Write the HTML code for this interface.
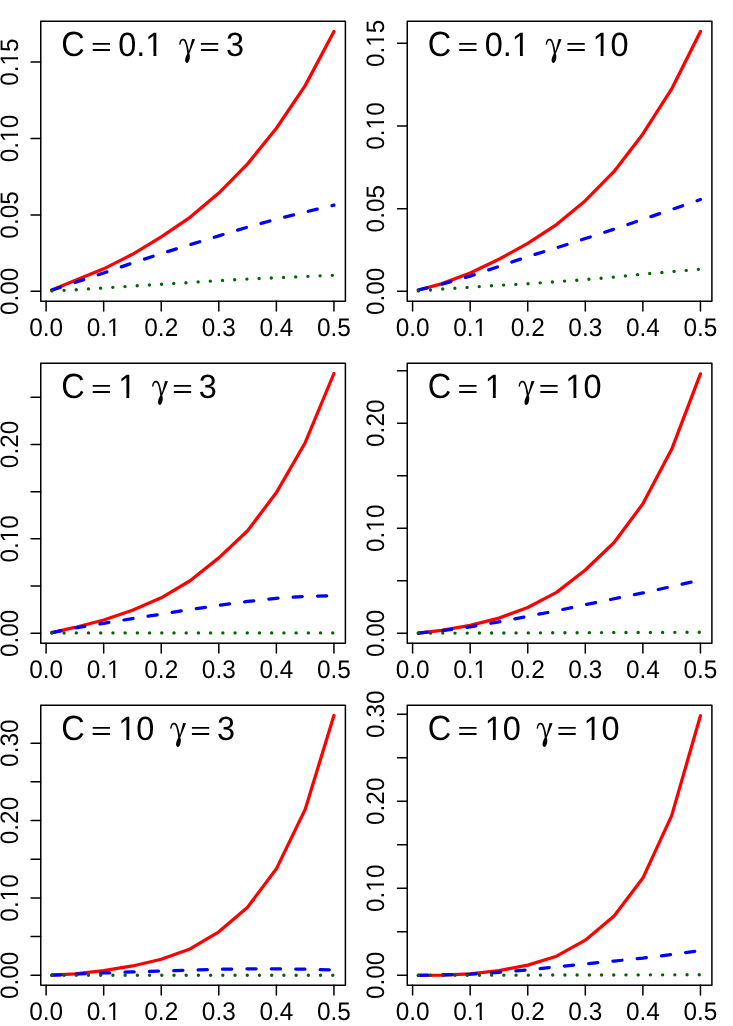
<!DOCTYPE html>
<html><head><meta charset="utf-8"><title>chart</title>
<style>
html,body{margin:0;padding:0;background:#fff;}
body{width:733px;height:1026px;overflow:hidden;}
svg{display:block;font-family:"Liberation Sans",sans-serif;fill:#000;}
text{text-rendering:geometricPrecision;}
.t{filter:grayscale(1);}
</style></head><body>
<svg width="733" height="1026" viewBox="0 0 733 1026">
<rect width="733" height="1026" fill="#fff"/>
<g>
<polyline points="51.86,290.00 74.89,280.60 103.67,268.84 132.46,254.32 161.24,236.90 190.03,217.34 218.81,193.05 247.59,163.86 276.38,128.26 305.17,85.63 333.95,31.54" fill="none" stroke="#ff0000" stroke-width="3.25" stroke-linecap="round" stroke-linejoin="round"/>
<polyline points="51.86,290.08 74.89,282.59 103.67,272.96 132.46,263.03 161.24,253.56 190.03,244.70 218.81,235.83 247.59,227.12 276.38,219.18 305.17,212.00 333.95,205.12" fill="none" stroke="#0000ff" stroke-width="3.25" stroke-linecap="round" stroke-linejoin="round" stroke-dasharray="9.15 15.25"/>
<polyline points="51.86,290.99 74.89,289.77 103.67,287.94 132.46,286.10 161.24,284.27 190.03,282.44 218.81,280.60 247.59,279.08 276.38,277.70 305.17,276.48 333.95,275.26" fill="none" stroke="#006400" stroke-width="3.40" stroke-linecap="round" stroke-linejoin="round" stroke-dasharray="0 12.213"/>
<rect x="40.75" y="21.20" width="304.65" height="280.15" fill="none" stroke="#000" stroke-width="1.50" stroke-linejoin="round"/>
<path d="M46.10 301.35V310.95M103.67 301.35V310.95M161.24 301.35V310.95M218.81 301.35V310.95M276.38 301.35V310.95M333.95 301.35V310.95M40.75 291.30H31.05M40.75 214.90H31.05M40.75 138.50H31.05M40.75 62.10H31.05" stroke="#000" stroke-width="1.50" fill="none" stroke-linecap="round"/>
<path d="M92.70 43.90h17.3M92.70 50.00h17.3" stroke="#000" stroke-width="1.85" fill="none"/>
<path d="M182.92 38.55 C184 38.55 184.6 38.9 185.1 39.42 C185.7 40 186.1 40.9 186.41 41.61 C186.9 42.8 187.2 44 187.5 45.1 L188.59 49.47 L188.94 51.21 L192.09 38.99 L195.06 39.21 L189.69 52.52 C189.5 52.9 189.3 53.1 189.25 53.4 C189.9 55 190 56.8 189.69 58.2 C189.3 60.5 188.3 62.79 187.07 62.79 C185.5 62.79 184.8 61 185.1 59.07 C185.4 57 186.6 55 187.28 53.4 C187.1 51.8 186.9 50.2 186.63 48.59 C186.3 46.8 185.9 44.9 185.32 43.35 C184.9 42.2 184.4 41.2 183.79 40.73 C183.4 40.45 182.9 40.4 182.48 40.52 C181.9 40.7 181.5 41.1 181.17 41.61 C180.8 42.4 180.6 43.5 180.52 44.45 L179.21 44.66 C179.2 43.9 179.3 43.2 179.42 42.48 C179.6 41.4 180.1 40.4 180.73 39.64 C181.3 39 182 38.55 182.92 38.55 Z" transform="translate(0.04 0.10)" fill="#000"/>
<path d="M200.94 43.90h17.3M200.94 50.00h17.3" stroke="#000" stroke-width="1.85" fill="none"/>
</g>
<g>
<polyline points="418.36,289.98 441.39,283.86 470.17,272.95 498.96,259.23 527.74,243.36 556.53,224.52 585.31,200.72 614.10,171.46 642.88,133.93 671.67,88.97 700.45,31.45" fill="none" stroke="#ff0000" stroke-width="3.25" stroke-linecap="round" stroke-linejoin="round"/>
<polyline points="418.36,289.98 441.39,284.36 470.17,276.09 498.96,266.50 527.74,256.59 556.53,247.83 585.31,238.57 614.10,229.15 642.88,219.39 671.67,209.48 700.45,199.56" fill="none" stroke="#0000ff" stroke-width="3.25" stroke-linecap="round" stroke-linejoin="round" stroke-dasharray="9.15 15.25"/>
<polyline points="418.36,290.97 441.39,289.15 470.17,287.17 498.96,285.35 527.74,283.70 556.53,281.71 585.31,279.56 614.10,277.08 642.88,274.11 671.67,271.63 700.45,269.15" fill="none" stroke="#006400" stroke-width="3.40" stroke-linecap="round" stroke-linejoin="round" stroke-dasharray="0 12.213"/>
<rect x="407.25" y="21.20" width="304.65" height="280.15" fill="none" stroke="#000" stroke-width="1.50" stroke-linejoin="round"/>
<path d="M412.60 301.35V310.95M470.17 301.35V310.95M527.74 301.35V310.95M585.31 301.35V310.95M642.88 301.35V310.95M700.45 301.35V310.95M407.25 291.30H397.55M407.25 208.65H397.55M407.25 126.00H397.55M407.25 43.35H397.55" stroke="#000" stroke-width="1.50" fill="none" stroke-linecap="round"/>
<path d="M459.20 43.90h17.3M459.20 50.00h17.3" stroke="#000" stroke-width="1.85" fill="none"/>
<path d="M182.92 38.55 C184 38.55 184.6 38.9 185.1 39.42 C185.7 40 186.1 40.9 186.41 41.61 C186.9 42.8 187.2 44 187.5 45.1 L188.59 49.47 L188.94 51.21 L192.09 38.99 L195.06 39.21 L189.69 52.52 C189.5 52.9 189.3 53.1 189.25 53.4 C189.9 55 190 56.8 189.69 58.2 C189.3 60.5 188.3 62.79 187.07 62.79 C185.5 62.79 184.8 61 185.1 59.07 C185.4 57 186.6 55 187.28 53.4 C187.1 51.8 186.9 50.2 186.63 48.59 C186.3 46.8 185.9 44.9 185.32 43.35 C184.9 42.2 184.4 41.2 183.79 40.73 C183.4 40.45 182.9 40.4 182.48 40.52 C181.9 40.7 181.5 41.1 181.17 41.61 C180.8 42.4 180.6 43.5 180.52 44.45 L179.21 44.66 C179.2 43.9 179.3 43.2 179.42 42.48 C179.6 41.4 180.1 40.4 180.73 39.64 C181.3 39 182 38.55 182.92 38.55 Z" transform="translate(366.54 0.10)" fill="#000"/>
<path d="M567.44 43.90h17.3M567.44 50.00h17.3" stroke="#000" stroke-width="1.85" fill="none"/>
</g>
<g>
<polyline points="51.86,632.55 74.89,627.45 103.67,620.00 132.46,610.29 161.24,597.84 190.03,580.77 218.81,557.86 247.59,530.80 276.38,492.60 305.17,442.72 333.95,373.50" fill="none" stroke="#ff0000" stroke-width="3.25" stroke-linecap="round" stroke-linejoin="round"/>
<polyline points="51.86,632.55 74.89,628.11 103.67,623.30 132.46,618.59 161.24,614.16 190.03,609.54 218.81,605.39 247.59,601.43 276.38,598.31 305.17,596.33 333.95,595.58" fill="none" stroke="#0000ff" stroke-width="3.25" stroke-linecap="round" stroke-linejoin="round" stroke-dasharray="9.15 15.25"/>
<polyline points="51.86,633.02 74.89,632.92 103.67,632.92 132.46,632.92 161.24,632.92 190.03,632.92 218.81,632.92 247.59,632.92 276.38,632.92 305.17,632.92 333.95,632.92" fill="none" stroke="#006400" stroke-width="3.40" stroke-linecap="round" stroke-linejoin="round" stroke-dasharray="0 12.213"/>
<rect x="40.75" y="363.20" width="304.65" height="280.15" fill="none" stroke="#000" stroke-width="1.50" stroke-linejoin="round"/>
<path d="M46.10 643.35V652.95M103.67 643.35V652.95M161.24 643.35V652.95M218.81 643.35V652.95M276.38 643.35V652.95M333.95 643.35V652.95M40.75 633.30H31.05M40.75 586.08H31.05M40.75 538.86H31.05M40.75 491.64H31.05M40.75 444.42H31.05M40.75 397.20H31.05" stroke="#000" stroke-width="1.50" fill="none" stroke-linecap="round"/>
<path d="M92.70 385.90h17.3M92.70 392.00h17.3" stroke="#000" stroke-width="1.85" fill="none"/>
<path d="M182.92 38.55 C184 38.55 184.6 38.9 185.1 39.42 C185.7 40 186.1 40.9 186.41 41.61 C186.9 42.8 187.2 44 187.5 45.1 L188.59 49.47 L188.94 51.21 L192.09 38.99 L195.06 39.21 L189.69 52.52 C189.5 52.9 189.3 53.1 189.25 53.4 C189.9 55 190 56.8 189.69 58.2 C189.3 60.5 188.3 62.79 187.07 62.79 C185.5 62.79 184.8 61 185.1 59.07 C185.4 57 186.6 55 187.28 53.4 C187.1 51.8 186.9 50.2 186.63 48.59 C186.3 46.8 185.9 44.9 185.32 43.35 C184.9 42.2 184.4 41.2 183.79 40.73 C183.4 40.45 182.9 40.4 182.48 40.52 C181.9 40.7 181.5 41.1 181.17 41.61 C180.8 42.4 180.6 43.5 180.52 44.45 L179.21 44.66 C179.2 43.9 179.3 43.2 179.42 42.48 C179.6 41.4 180.1 40.4 180.73 39.64 C181.3 39 182 38.55 182.92 38.55 Z" transform="translate(-27.07 342.10)" fill="#000"/>
<path d="M173.83 385.90h17.3M173.83 392.00h17.3" stroke="#000" stroke-width="1.85" fill="none"/>
</g>
<g>
<polyline points="418.36,633.09 441.39,630.37 470.17,625.35 498.96,618.13 527.74,607.46 556.53,592.40 585.31,570.02 614.10,542.51 642.88,503.81 671.67,449.31 700.45,373.89" fill="none" stroke="#ff0000" stroke-width="3.25" stroke-linecap="round" stroke-linejoin="round"/>
<polyline points="418.36,633.09 441.39,630.69 470.17,626.92 498.96,621.79 527.74,616.35 556.53,610.81 585.31,604.64 614.10,598.78 642.88,592.92 671.67,586.54 700.45,579.95" fill="none" stroke="#0000ff" stroke-width="3.25" stroke-linecap="round" stroke-linejoin="round" stroke-dasharray="9.15 15.25"/>
<polyline points="418.36,633.20 441.39,633.09 470.17,633.09 498.96,632.99 527.74,632.88 556.53,632.78 585.31,632.67 614.10,632.57 642.88,632.46 671.67,632.36 700.45,632.25" fill="none" stroke="#006400" stroke-width="3.40" stroke-linecap="round" stroke-linejoin="round" stroke-dasharray="0 12.213"/>
<rect x="407.25" y="363.20" width="304.65" height="280.15" fill="none" stroke="#000" stroke-width="1.50" stroke-linejoin="round"/>
<path d="M412.60 643.35V652.95M470.17 643.35V652.95M527.74 643.35V652.95M585.31 643.35V652.95M642.88 643.35V652.95M700.45 643.35V652.95M407.25 633.30H397.55M407.25 580.78H397.55M407.25 528.26H397.55M407.25 475.74H397.55M407.25 423.22H397.55M407.25 370.70H397.55" stroke="#000" stroke-width="1.50" fill="none" stroke-linecap="round"/>
<path d="M459.20 385.90h17.3M459.20 392.00h17.3" stroke="#000" stroke-width="1.85" fill="none"/>
<path d="M182.92 38.55 C184 38.55 184.6 38.9 185.1 39.42 C185.7 40 186.1 40.9 186.41 41.61 C186.9 42.8 187.2 44 187.5 45.1 L188.59 49.47 L188.94 51.21 L192.09 38.99 L195.06 39.21 L189.69 52.52 C189.5 52.9 189.3 53.1 189.25 53.4 C189.9 55 190 56.8 189.69 58.2 C189.3 60.5 188.3 62.79 187.07 62.79 C185.5 62.79 184.8 61 185.1 59.07 C185.4 57 186.6 55 187.28 53.4 C187.1 51.8 186.9 50.2 186.63 48.59 C186.3 46.8 185.9 44.9 185.32 43.35 C184.9 42.2 184.4 41.2 183.79 40.73 C183.4 40.45 182.9 40.4 182.48 40.52 C181.9 40.7 181.5 41.1 181.17 41.61 C180.8 42.4 180.6 43.5 180.52 44.45 L179.21 44.66 C179.2 43.9 179.3 43.2 179.42 42.48 C179.6 41.4 180.1 40.4 180.73 39.64 C181.3 39 182 38.55 182.92 38.55 Z" transform="translate(339.43 342.10)" fill="#000"/>
<path d="M540.33 385.90h17.3M540.33 392.00h17.3" stroke="#000" stroke-width="1.85" fill="none"/>
</g>
<g>
<polyline points="51.86,975.22 74.89,973.76 103.67,970.67 132.46,965.96 161.24,959.24 190.03,948.97 218.81,931.84 247.59,907.21 276.38,868.84 305.17,809.40 333.95,715.52" fill="none" stroke="#ff0000" stroke-width="3.25" stroke-linecap="round" stroke-linejoin="round"/>
<polyline points="51.86,975.22 74.89,974.14 103.67,972.98 132.46,971.90 161.24,970.98 190.03,970.05 218.81,969.28 247.59,968.82 276.38,968.82 305.17,969.12 333.95,969.90" fill="none" stroke="#0000ff" stroke-width="3.25" stroke-linecap="round" stroke-linejoin="round" stroke-dasharray="9.15 15.25"/>
<polyline points="51.86,975.22 74.89,975.22 103.67,975.22 132.46,975.22 161.24,975.22 190.03,975.22 218.81,975.22 247.59,975.22 276.38,975.22 305.17,975.22 333.95,975.22" fill="none" stroke="#006400" stroke-width="3.40" stroke-linecap="round" stroke-linejoin="round" stroke-dasharray="0 12.213"/>
<rect x="40.75" y="705.20" width="304.65" height="280.15" fill="none" stroke="#000" stroke-width="1.50" stroke-linejoin="round"/>
<path d="M46.10 985.35V994.95M103.67 985.35V994.95M161.24 985.35V994.95M218.81 985.35V994.95M276.38 985.35V994.95M333.95 985.35V994.95M40.75 975.30H31.05M40.75 936.61H31.05M40.75 897.92H31.05M40.75 859.23H31.05M40.75 820.54H31.05M40.75 781.85H31.05M40.75 743.16H31.05" stroke="#000" stroke-width="1.50" fill="none" stroke-linecap="round"/>
<path d="M92.70 727.90h17.3M92.70 734.00h17.3" stroke="#000" stroke-width="1.85" fill="none"/>
<path d="M182.92 38.55 C184 38.55 184.6 38.9 185.1 39.42 C185.7 40 186.1 40.9 186.41 41.61 C186.9 42.8 187.2 44 187.5 45.1 L188.59 49.47 L188.94 51.21 L192.09 38.99 L195.06 39.21 L189.69 52.52 C189.5 52.9 189.3 53.1 189.25 53.4 C189.9 55 190 56.8 189.69 58.2 C189.3 60.5 188.3 62.79 187.07 62.79 C185.5 62.79 184.8 61 185.1 59.07 C185.4 57 186.6 55 187.28 53.4 C187.1 51.8 186.9 50.2 186.63 48.59 C186.3 46.8 185.9 44.9 185.32 43.35 C184.9 42.2 184.4 41.2 183.79 40.73 C183.4 40.45 182.9 40.4 182.48 40.52 C181.9 40.7 181.5 41.1 181.17 41.61 C180.8 42.4 180.6 43.5 180.52 44.45 L179.21 44.66 C179.2 43.9 179.3 43.2 179.42 42.48 C179.6 41.4 180.1 40.4 180.73 39.64 C181.3 39 182 38.55 182.92 38.55 Z" transform="translate(-8.99 684.10)" fill="#000"/>
<path d="M191.91 727.90h17.3M191.91 734.00h17.3" stroke="#000" stroke-width="1.85" fill="none"/>
</g>
<g>
<polyline points="418.36,975.30 441.39,975.13 470.17,973.91 498.96,970.61 527.74,965.14 556.53,956.20 585.31,940.15 614.10,916.10 642.88,878.08 671.67,815.59 700.45,715.77" fill="none" stroke="#ff0000" stroke-width="3.25" stroke-linecap="round" stroke-linejoin="round"/>
<polyline points="418.36,975.30 441.39,975.04 470.17,974.17 498.96,972.35 527.74,969.92 556.53,966.79 585.31,963.93 614.10,961.06 642.88,958.11 671.67,954.47 700.45,950.56" fill="none" stroke="#0000ff" stroke-width="3.25" stroke-linecap="round" stroke-linejoin="round" stroke-dasharray="9.15 15.25"/>
<polyline points="418.36,975.30 441.39,975.21 470.17,975.21 498.96,975.13 527.74,975.13 556.53,975.04 585.31,974.95 614.10,974.95 642.88,974.87 671.67,974.87 700.45,974.78" fill="none" stroke="#006400" stroke-width="3.40" stroke-linecap="round" stroke-linejoin="round" stroke-dasharray="0 12.213"/>
<rect x="407.25" y="705.20" width="304.65" height="280.15" fill="none" stroke="#000" stroke-width="1.50" stroke-linejoin="round"/>
<path d="M412.60 985.35V994.95M470.17 985.35V994.95M527.74 985.35V994.95M585.31 985.35V994.95M642.88 985.35V994.95M700.45 985.35V994.95M407.25 975.30H397.55M407.25 931.79H397.55M407.25 888.27H397.55M407.25 844.76H397.55M407.25 801.24H397.55M407.25 757.73H397.55M407.25 714.21H397.55" stroke="#000" stroke-width="1.50" fill="none" stroke-linecap="round"/>
<path d="M459.20 727.90h17.3M459.20 734.00h17.3" stroke="#000" stroke-width="1.85" fill="none"/>
<path d="M182.92 38.55 C184 38.55 184.6 38.9 185.1 39.42 C185.7 40 186.1 40.9 186.41 41.61 C186.9 42.8 187.2 44 187.5 45.1 L188.59 49.47 L188.94 51.21 L192.09 38.99 L195.06 39.21 L189.69 52.52 C189.5 52.9 189.3 53.1 189.25 53.4 C189.9 55 190 56.8 189.69 58.2 C189.3 60.5 188.3 62.79 187.07 62.79 C185.5 62.79 184.8 61 185.1 59.07 C185.4 57 186.6 55 187.28 53.4 C187.1 51.8 186.9 50.2 186.63 48.59 C186.3 46.8 185.9 44.9 185.32 43.35 C184.9 42.2 184.4 41.2 183.79 40.73 C183.4 40.45 182.9 40.4 182.48 40.52 C181.9 40.7 181.5 41.1 181.17 41.61 C180.8 42.4 180.6 43.5 180.52 44.45 L179.21 44.66 C179.2 43.9 179.3 43.2 179.42 42.48 C179.6 41.4 180.1 40.4 180.73 39.64 C181.3 39 182 38.55 182.92 38.55 Z" transform="translate(357.51 684.10)" fill="#000"/>
<path d="M558.41 727.90h17.3M558.41 734.00h17.3" stroke="#000" stroke-width="1.85" fill="none"/>
</g>
<g class="t">
<text transform="translate(46.10 335.70) scale(1 1.045)" x="-16.96" font-size="24.40">0.0</text>
<text transform="translate(103.67 335.70) scale(1 1.045)" x="-16.96" font-size="24.40">0.1</text>
<rect transform="translate(103.67 335.70)" x="4.05" y="-2.65" width="5.46" height="3.65" fill="#fff"/>
<rect transform="translate(103.67 335.70)" x="11.70" y="-2.65" width="5.29" height="3.65" fill="#fff"/>
<text transform="translate(161.24 335.70) scale(1 1.045)" x="-16.96" font-size="24.40">0.2</text>
<text transform="translate(218.81 335.70) scale(1 1.045)" x="-16.96" font-size="24.40">0.3</text>
<text transform="translate(276.38 335.70) scale(1 1.045)" x="-16.96" font-size="24.40">0.4</text>
<text transform="translate(333.95 335.70) scale(1 1.045)" x="-16.96" font-size="24.40">0.5</text>
<text transform="translate(17.90 291.30) rotate(-90) scale(1 1.035)" x="-23.74" font-size="24.40">0.00</text>
<text transform="translate(17.90 214.90) rotate(-90) scale(1 1.035)" x="-23.74" font-size="24.40">0.05</text>
<text transform="translate(17.90 138.50) rotate(-90) scale(1 1.035)" x="-23.74" font-size="24.40">0.10</text>
<rect transform="translate(17.90 138.50) rotate(-90)" x="-2.74" y="-2.64" width="5.46" height="3.64" fill="#fff"/>
<rect transform="translate(17.90 138.50) rotate(-90)" x="4.92" y="-2.64" width="5.29" height="3.64" fill="#fff"/>
<text transform="translate(17.90 62.10) rotate(-90) scale(1 1.035)" x="-23.74" font-size="24.40">0.15</text>
<rect transform="translate(17.90 62.10) rotate(-90)" x="-2.74" y="-2.64" width="5.46" height="3.64" fill="#fff"/>
<rect transform="translate(17.90 62.10) rotate(-90)" x="4.92" y="-2.64" width="5.29" height="3.64" fill="#fff"/>
<text transform="translate(61.35 55.90) scale(1 1.080)" x="0.00" font-size="32.50">C</text>
<text transform="translate(118.20 55.90) scale(1 1.035)" x="0.00" font-size="32.50">0.1</text>
<rect transform="translate(118.20 55.90)" x="28.38" y="-3.26" width="6.88" height="4.26" fill="#fff"/>
<rect transform="translate(118.20 55.90)" x="38.17" y="-3.26" width="6.64" height="4.26" fill="#fff"/>
<text transform="translate(225.94 55.90) scale(1 1.035)" x="0.00" font-size="32.50">3</text>
<text transform="translate(412.60 335.70) scale(1 1.045)" x="-16.96" font-size="24.40">0.0</text>
<text transform="translate(470.17 335.70) scale(1 1.045)" x="-16.96" font-size="24.40">0.1</text>
<rect transform="translate(470.17 335.70)" x="4.05" y="-2.65" width="5.46" height="3.65" fill="#fff"/>
<rect transform="translate(470.17 335.70)" x="11.70" y="-2.65" width="5.29" height="3.65" fill="#fff"/>
<text transform="translate(527.74 335.70) scale(1 1.045)" x="-16.96" font-size="24.40">0.2</text>
<text transform="translate(585.31 335.70) scale(1 1.045)" x="-16.96" font-size="24.40">0.3</text>
<text transform="translate(642.88 335.70) scale(1 1.045)" x="-16.96" font-size="24.40">0.4</text>
<text transform="translate(700.45 335.70) scale(1 1.045)" x="-16.96" font-size="24.40">0.5</text>
<text transform="translate(384.40 291.30) rotate(-90) scale(1 1.035)" x="-23.74" font-size="24.40">0.00</text>
<text transform="translate(384.40 208.65) rotate(-90) scale(1 1.035)" x="-23.74" font-size="24.40">0.05</text>
<text transform="translate(384.40 126.00) rotate(-90) scale(1 1.035)" x="-23.74" font-size="24.40">0.10</text>
<rect transform="translate(384.40 126.00) rotate(-90)" x="-2.74" y="-2.64" width="5.46" height="3.64" fill="#fff"/>
<rect transform="translate(384.40 126.00) rotate(-90)" x="4.92" y="-2.64" width="5.29" height="3.64" fill="#fff"/>
<text transform="translate(384.40 43.35) rotate(-90) scale(1 1.035)" x="-23.74" font-size="24.40">0.15</text>
<rect transform="translate(384.40 43.35) rotate(-90)" x="-2.74" y="-2.64" width="5.46" height="3.64" fill="#fff"/>
<rect transform="translate(384.40 43.35) rotate(-90)" x="4.92" y="-2.64" width="5.29" height="3.64" fill="#fff"/>
<text transform="translate(427.85 55.90) scale(1 1.080)" x="0.00" font-size="32.50">C</text>
<text transform="translate(484.70 55.90) scale(1 1.035)" x="0.00" font-size="32.50">0.1</text>
<rect transform="translate(484.70 55.90)" x="28.38" y="-3.26" width="6.88" height="4.26" fill="#fff"/>
<rect transform="translate(484.70 55.90)" x="38.17" y="-3.26" width="6.64" height="4.26" fill="#fff"/>
<text transform="translate(592.44 55.90) scale(1 1.035)" x="0.00" font-size="32.50">10</text>
<rect transform="translate(592.44 55.90)" x="1.28" y="-3.26" width="6.88" height="4.26" fill="#fff"/>
<rect transform="translate(592.44 55.90)" x="11.06" y="-3.26" width="6.64" height="4.26" fill="#fff"/>
<text transform="translate(46.10 677.70) scale(1 1.045)" x="-16.96" font-size="24.40">0.0</text>
<text transform="translate(103.67 677.70) scale(1 1.045)" x="-16.96" font-size="24.40">0.1</text>
<rect transform="translate(103.67 677.70)" x="4.05" y="-2.65" width="5.46" height="3.65" fill="#fff"/>
<rect transform="translate(103.67 677.70)" x="11.70" y="-2.65" width="5.29" height="3.65" fill="#fff"/>
<text transform="translate(161.24 677.70) scale(1 1.045)" x="-16.96" font-size="24.40">0.2</text>
<text transform="translate(218.81 677.70) scale(1 1.045)" x="-16.96" font-size="24.40">0.3</text>
<text transform="translate(276.38 677.70) scale(1 1.045)" x="-16.96" font-size="24.40">0.4</text>
<text transform="translate(333.95 677.70) scale(1 1.045)" x="-16.96" font-size="24.40">0.5</text>
<text transform="translate(17.90 633.30) rotate(-90) scale(1 1.035)" x="-23.74" font-size="24.40">0.00</text>
<text transform="translate(17.90 538.86) rotate(-90) scale(1 1.035)" x="-23.74" font-size="24.40">0.10</text>
<rect transform="translate(17.90 538.86) rotate(-90)" x="-2.74" y="-2.64" width="5.46" height="3.64" fill="#fff"/>
<rect transform="translate(17.90 538.86) rotate(-90)" x="4.92" y="-2.64" width="5.29" height="3.64" fill="#fff"/>
<text transform="translate(17.90 444.42) rotate(-90) scale(1 1.035)" x="-23.74" font-size="24.40">0.20</text>
<text transform="translate(61.35 397.90) scale(1 1.080)" x="0.00" font-size="32.50">C</text>
<text transform="translate(118.20 397.90) scale(1 1.035)" x="0.00" font-size="32.50">1</text>
<rect transform="translate(118.20 397.90)" x="1.28" y="-3.26" width="6.88" height="4.26" fill="#fff"/>
<rect transform="translate(118.20 397.90)" x="11.06" y="-3.26" width="6.64" height="4.26" fill="#fff"/>
<text transform="translate(198.83 397.90) scale(1 1.035)" x="0.00" font-size="32.50">3</text>
<text transform="translate(412.60 677.70) scale(1 1.045)" x="-16.96" font-size="24.40">0.0</text>
<text transform="translate(470.17 677.70) scale(1 1.045)" x="-16.96" font-size="24.40">0.1</text>
<rect transform="translate(470.17 677.70)" x="4.05" y="-2.65" width="5.46" height="3.65" fill="#fff"/>
<rect transform="translate(470.17 677.70)" x="11.70" y="-2.65" width="5.29" height="3.65" fill="#fff"/>
<text transform="translate(527.74 677.70) scale(1 1.045)" x="-16.96" font-size="24.40">0.2</text>
<text transform="translate(585.31 677.70) scale(1 1.045)" x="-16.96" font-size="24.40">0.3</text>
<text transform="translate(642.88 677.70) scale(1 1.045)" x="-16.96" font-size="24.40">0.4</text>
<text transform="translate(700.45 677.70) scale(1 1.045)" x="-16.96" font-size="24.40">0.5</text>
<text transform="translate(384.40 633.30) rotate(-90) scale(1 1.035)" x="-23.74" font-size="24.40">0.00</text>
<text transform="translate(384.40 528.26) rotate(-90) scale(1 1.035)" x="-23.74" font-size="24.40">0.10</text>
<rect transform="translate(384.40 528.26) rotate(-90)" x="-2.74" y="-2.64" width="5.46" height="3.64" fill="#fff"/>
<rect transform="translate(384.40 528.26) rotate(-90)" x="4.92" y="-2.64" width="5.29" height="3.64" fill="#fff"/>
<text transform="translate(384.40 423.22) rotate(-90) scale(1 1.035)" x="-23.74" font-size="24.40">0.20</text>
<text transform="translate(427.85 397.90) scale(1 1.080)" x="0.00" font-size="32.50">C</text>
<text transform="translate(484.70 397.90) scale(1 1.035)" x="0.00" font-size="32.50">1</text>
<rect transform="translate(484.70 397.90)" x="1.28" y="-3.26" width="6.88" height="4.26" fill="#fff"/>
<rect transform="translate(484.70 397.90)" x="11.06" y="-3.26" width="6.64" height="4.26" fill="#fff"/>
<text transform="translate(565.33 397.90) scale(1 1.035)" x="0.00" font-size="32.50">10</text>
<rect transform="translate(565.33 397.90)" x="1.28" y="-3.26" width="6.88" height="4.26" fill="#fff"/>
<rect transform="translate(565.33 397.90)" x="11.06" y="-3.26" width="6.64" height="4.26" fill="#fff"/>
<text transform="translate(46.10 1019.70) scale(1 1.045)" x="-16.96" font-size="24.40">0.0</text>
<text transform="translate(103.67 1019.70) scale(1 1.045)" x="-16.96" font-size="24.40">0.1</text>
<rect transform="translate(103.67 1019.70)" x="4.05" y="-2.65" width="5.46" height="3.65" fill="#fff"/>
<rect transform="translate(103.67 1019.70)" x="11.70" y="-2.65" width="5.29" height="3.65" fill="#fff"/>
<text transform="translate(161.24 1019.70) scale(1 1.045)" x="-16.96" font-size="24.40">0.2</text>
<text transform="translate(218.81 1019.70) scale(1 1.045)" x="-16.96" font-size="24.40">0.3</text>
<text transform="translate(276.38 1019.70) scale(1 1.045)" x="-16.96" font-size="24.40">0.4</text>
<text transform="translate(333.95 1019.70) scale(1 1.045)" x="-16.96" font-size="24.40">0.5</text>
<text transform="translate(17.90 975.30) rotate(-90) scale(1 1.035)" x="-23.74" font-size="24.40">0.00</text>
<text transform="translate(17.90 897.92) rotate(-90) scale(1 1.035)" x="-23.74" font-size="24.40">0.10</text>
<rect transform="translate(17.90 897.92) rotate(-90)" x="-2.74" y="-2.64" width="5.46" height="3.64" fill="#fff"/>
<rect transform="translate(17.90 897.92) rotate(-90)" x="4.92" y="-2.64" width="5.29" height="3.64" fill="#fff"/>
<text transform="translate(17.90 820.54) rotate(-90) scale(1 1.035)" x="-23.74" font-size="24.40">0.20</text>
<text transform="translate(17.90 743.16) rotate(-90) scale(1 1.035)" x="-23.74" font-size="24.40">0.30</text>
<text transform="translate(61.35 739.90) scale(1 1.080)" x="0.00" font-size="32.50">C</text>
<text transform="translate(118.20 739.90) scale(1 1.035)" x="0.00" font-size="32.50">10</text>
<rect transform="translate(118.20 739.90)" x="1.28" y="-3.26" width="6.88" height="4.26" fill="#fff"/>
<rect transform="translate(118.20 739.90)" x="11.06" y="-3.26" width="6.64" height="4.26" fill="#fff"/>
<text transform="translate(216.91 739.90) scale(1 1.035)" x="0.00" font-size="32.50">3</text>
<text transform="translate(412.60 1019.70) scale(1 1.045)" x="-16.96" font-size="24.40">0.0</text>
<text transform="translate(470.17 1019.70) scale(1 1.045)" x="-16.96" font-size="24.40">0.1</text>
<rect transform="translate(470.17 1019.70)" x="4.05" y="-2.65" width="5.46" height="3.65" fill="#fff"/>
<rect transform="translate(470.17 1019.70)" x="11.70" y="-2.65" width="5.29" height="3.65" fill="#fff"/>
<text transform="translate(527.74 1019.70) scale(1 1.045)" x="-16.96" font-size="24.40">0.2</text>
<text transform="translate(585.31 1019.70) scale(1 1.045)" x="-16.96" font-size="24.40">0.3</text>
<text transform="translate(642.88 1019.70) scale(1 1.045)" x="-16.96" font-size="24.40">0.4</text>
<text transform="translate(700.45 1019.70) scale(1 1.045)" x="-16.96" font-size="24.40">0.5</text>
<text transform="translate(384.40 975.30) rotate(-90) scale(1 1.035)" x="-23.74" font-size="24.40">0.00</text>
<text transform="translate(384.40 888.27) rotate(-90) scale(1 1.035)" x="-23.74" font-size="24.40">0.10</text>
<rect transform="translate(384.40 888.27) rotate(-90)" x="-2.74" y="-2.64" width="5.46" height="3.64" fill="#fff"/>
<rect transform="translate(384.40 888.27) rotate(-90)" x="4.92" y="-2.64" width="5.29" height="3.64" fill="#fff"/>
<text transform="translate(384.40 801.24) rotate(-90) scale(1 1.035)" x="-23.74" font-size="24.40">0.20</text>
<text transform="translate(384.40 714.21) rotate(-90) scale(1 1.035)" x="-23.74" font-size="24.40">0.30</text>
<text transform="translate(427.85 739.90) scale(1 1.080)" x="0.00" font-size="32.50">C</text>
<text transform="translate(484.70 739.90) scale(1 1.035)" x="0.00" font-size="32.50">10</text>
<rect transform="translate(484.70 739.90)" x="1.28" y="-3.26" width="6.88" height="4.26" fill="#fff"/>
<rect transform="translate(484.70 739.90)" x="11.06" y="-3.26" width="6.64" height="4.26" fill="#fff"/>
<text transform="translate(583.41 739.90) scale(1 1.035)" x="0.00" font-size="32.50">10</text>
<rect transform="translate(583.41 739.90)" x="1.28" y="-3.26" width="6.88" height="4.26" fill="#fff"/>
<rect transform="translate(583.41 739.90)" x="11.06" y="-3.26" width="6.64" height="4.26" fill="#fff"/>
</g>
</svg>
</body></html>
